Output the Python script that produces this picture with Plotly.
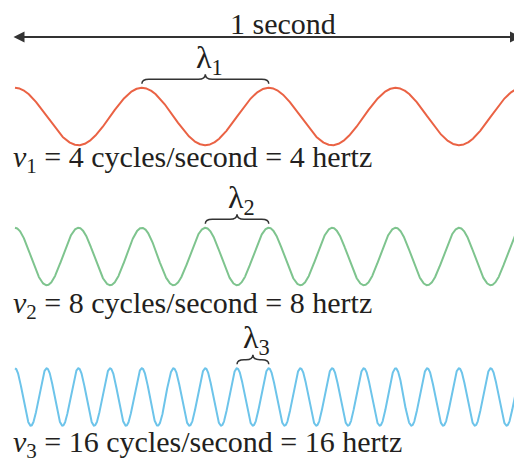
import numpy as np
import plotly.graph_objects as go

# ---- data ----
frequencies = [4, 8, 16]                      # cycles per second
wave_colors = ["#EA6244", "#7EC48E", "#6DC4EA"]
subscripts = ["1", "2", "3"]
duration_label = "1 second"

# ---- layout constants ----
# The page body keeps its default 8px margin, so the figure is drawn 8px in
# from the window's top-left corner; all reference pixel positions are
# measured in window pixels and converted here.
OFF = 8
WIN_W, WIN_H = 522, 465
W, H = WIN_W - OFF, WIN_H - OFF
PX_T0, PX_PER_SEC = 15.0, 507.5
centers = [116.5, 256.5, 397.0]
amp = 28.7
label_baselines = [168, 314, 453]
SERIF = "Liberation Serif, Times New Roman, serif"
INK = "#231F20"

def px_to_t(px):
    return (px - PX_T0) / PX_PER_SEC

def px_to_paper_x(px):
    return (px - OFF) / W

fig = go.Figure()

t = np.linspace(0, 1, 3001)
for f, c, col in zip(frequencies, centers, wave_colors):
    y = c - amp * np.cos(2 * np.pi * f * t)
    fig.add_trace(go.Scatter(x=t, y=y, mode="lines",
                             line=dict(color=col, width=2),
                             hoverinfo="skip", showlegend=False))

shapes = []
annotations = []

# braces marking one wavelength, ending at t = 0.5
r = 7 / PX_PER_SEC
for f, c, sub in zip(frequencies, centers, subscripts):
    peak = c - amp
    x1 = 0.5
    x0 = 0.5 - 1.0 / f
    xm = (x0 + x1) / 2
    y0, y1, y2 = peak - 4, peak - 8.5, peak - 13.5
    path = (f"M {x0},{y0} Q {x0},{y1} {x0 + r},{y1} L {xm - r},{y1} "
            f"Q {xm},{y1} {xm},{y2} Q {xm},{y1} {xm + r},{y1} "
            f"L {x1 - r},{y1} Q {x1},{y1} {x1},{y0}")
    shapes.append(dict(type="path", path=path, xref="x", yref="y",
                       line=dict(color="#333333", width=1.5)))
    annotations.append(dict(x=xm + 4 / PX_PER_SEC, y=y2 - 15, xref="x", yref="y",
                            text=f"λ<sub>{sub}</sub>", showarrow=False,
                            xanchor="center", yanchor="middle",
                            font=dict(family=SERIF, size=32, color=INK)))

# frequency labels
for f, sub, b in zip(frequencies, subscripts, label_baselines):
    annotations.append(dict(x=px_to_paper_x(11), y=b - 9, xref="paper", yref="y",
                            text=f"<i>v</i><sub>{sub}</sub> = {f} cycles/second = {f} hertz",
                            showarrow=False, xanchor="left", yanchor="middle",
                            font=dict(family=SERIF, size=30, color=INK)))

# 1 second arrow
annotations.append(dict(x=px_to_t(521), y=37, ax=px_to_t(12), ay=37,
                        xref="x", yref="y", axref="x", ayref="y",
                        text="", showarrow=True, arrowside="end+start",
                        arrowhead=2, arrowsize=1.0, arrowwidth=2.2,
                        arrowcolor="#333333", standoff=0, startstandoff=0))
annotations.append(dict(x=px_to_paper_x(283), y=23, xref="paper", yref="y",
                        text=duration_label, showarrow=False,
                        xanchor="center", yanchor="middle",
                        font=dict(family=SERIF, size=30, color=INK)))

fig.update_layout(
    width=W, height=H,
    margin=dict(l=0, r=0, t=0, b=0),
    paper_bgcolor="white", plot_bgcolor="white",
    xaxis=dict(visible=False, range=[px_to_t(OFF), px_to_t(WIN_W)], fixedrange=True),
    yaxis=dict(visible=False, range=[WIN_H, OFF], fixedrange=True),
    shapes=shapes, annotations=annotations,
    showlegend=False,
)

fig.write_html("out.html")
